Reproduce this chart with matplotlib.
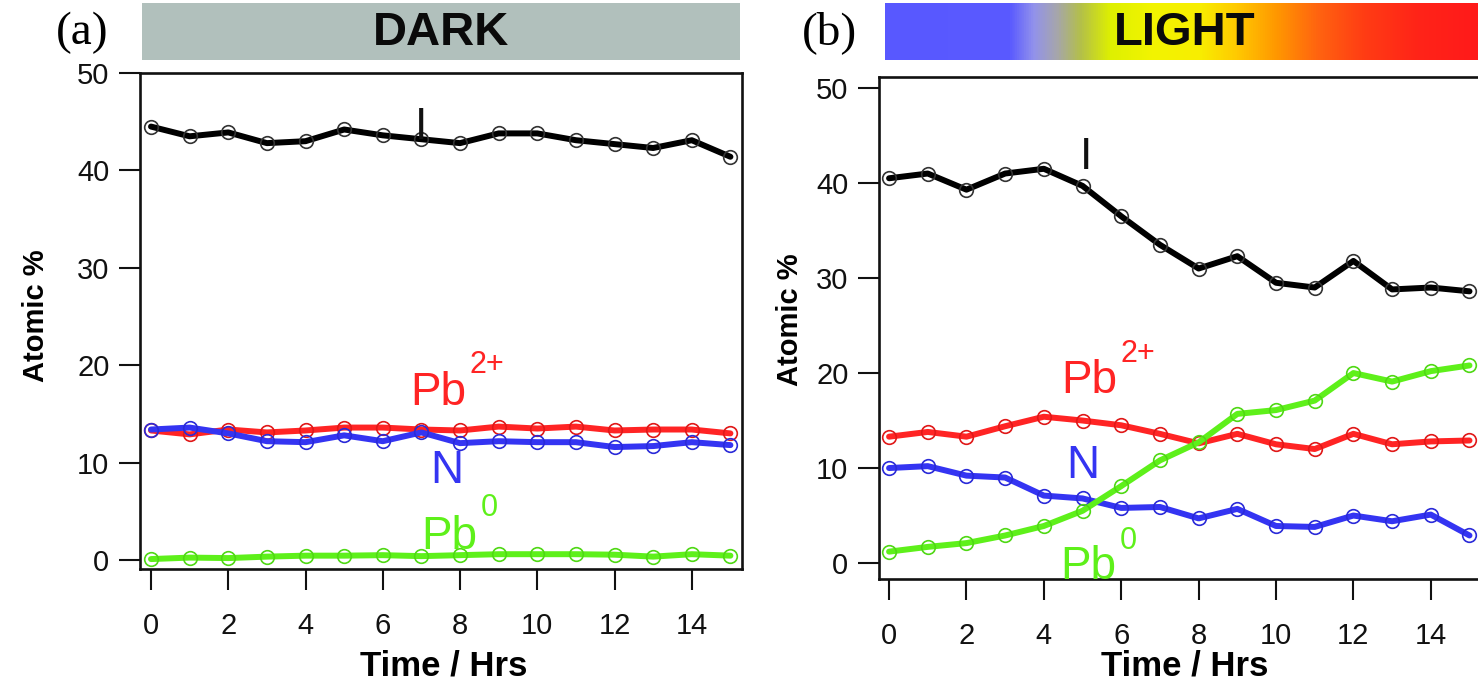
import numpy as np
import matplotlib
matplotlib.use("Agg")
import matplotlib.pyplot as plt
from matplotlib import font_manager
from matplotlib.colors import LinearSegmentedColormap

# ---------------- data ----------------
hours = list(range(16))

dark_I = [44.5, 43.5, 43.9, 42.8, 43.0, 44.2, 43.6, 43.2, 42.8, 43.8, 43.8, 43.1, 42.7, 42.3, 43.1, 41.4]
dark_Pb2 = [13.3, 12.9, 13.4, 13.1, 13.3, 13.6, 13.6, 13.4, 13.3, 13.7, 13.5, 13.7, 13.3, 13.4, 13.4, 13.0]
dark_N = [13.4, 13.6, 13.0, 12.2, 12.1, 12.8, 12.2, 13.1, 12.0, 12.2, 12.1, 12.1, 11.6, 11.7, 12.1, 11.8]
dark_Pb0 = [0.1, 0.25, 0.2, 0.35, 0.45, 0.45, 0.5, 0.4, 0.5, 0.6, 0.6, 0.6, 0.55, 0.35, 0.6, 0.45]

light_I = [40.5, 41.0, 39.3, 41.0, 41.5, 39.7, 36.5, 33.5, 31.0, 32.3, 29.5, 29.0, 31.8, 28.8, 29.0, 28.6]
light_Pb2 = [13.3, 13.8, 13.3, 14.4, 15.4, 15.0, 14.5, 13.6, 12.6, 13.6, 12.5, 12.0, 13.6, 12.5, 12.8, 12.9]
light_N = [10.0, 10.2, 9.2, 9.0, 7.1, 6.8, 5.8, 5.9, 4.7, 5.7, 3.9, 3.8, 5.0, 4.4, 5.1, 2.9]
light_Pb0 = [1.2, 1.7, 2.1, 2.9, 3.9, 5.5, 8.1, 10.8, 12.7, 15.7, 16.1, 17.1, 20.0, 19.1, 20.2, 20.8]

xticks = [0, 2, 4, 6, 8, 10, 12, 14]
yticks = [0, 10, 20, 30, 40, 50]

# ---------------- style ----------------
names = {f.name for f in font_manager.fontManager.ttflist}
SANS = "Liberation Sans" if "Liberation Sans" in names else "DejaVu Sans"
NARROW = "Liberation Sans Narrow" if "Liberation Sans Narrow" in names else SANS
SERIF = "Liberation Serif" if "Liberation Serif" in names else "DejaVu Serif"
plt.rcParams["font.family"] = [SANS, "DejaVu Sans"]

C_I = "#000000"
C_PB2 = "#ff2424"
C_N = "#3434f2"
C_PB0 = "#5ef01a"

W, H = 1478, 685
fig = plt.figure(figsize=(W / 100, H / 100), dpi=100)


def px_box(x0, y0, x1, y1):
    """Axes rectangle given in pixel edges (left, top, right, bottom)."""
    return [x0 / W, 1 - y1 / H, (x1 - x0) / W, (y1 - y0) / H]


def style_axes(ax, full_box):
    for side in ("left", "bottom", "top", "right"):
        ax.spines[side].set_linewidth(1.9)
        ax.spines[side].set_color("#111111")
    if not full_box:
        ax.spines["right"].set_visible(False)
    ax.set_xticks(xticks)
    ax.set_yticks(yticks)
    ax.tick_params(axis="both", direction="out", length=15, width=1.5,
                   labelsize=21, colors="#111111")
    ax.tick_params(axis="x", pad=16)
    ax.tick_params(axis="y", pad=7)
    ax.set_xlabel("Time / Hrs", fontsize=25, fontweight="bold", family=NARROW)
    ax.set_ylabel("Atomic %", fontsize=21, fontweight="bold", family=NARROW)
    ax.xaxis.label.set_va("center")
    ax.yaxis.label.set_va("center")


def series(ax, y, color, edge):
    ax.plot(hours, y, color=color, lw=4.3, marker="o", ms=9.8,
            mfc="none", mec=edge, mew=1.2, solid_joinstyle="round",
            solid_capstyle="round", clip_on=False, zorder=3)


def species_label(ax, x, y, base, sup, color, sup_dy=22):
    ax.text(x, y, base, color=color, fontsize=33, ha="left", va="baseline",
            clip_on=False)
    if sup:
        ax.annotate(sup, xy=(x, y), xytext=(43, sup_dy), textcoords="offset points",
                    color=color, fontsize=22, ha="left", va="baseline",
                    annotation_clip=False)


# ---------------- panel (a): dark ----------------
axa = fig.add_axes(px_box(140, 73, 742, 569))
series(axa, dark_I, C_I, "#333333")
series(axa, dark_Pb2, C_PB2, "#e01818")
series(axa, dark_N, C_N, "#2a2ad8")
series(axa, dark_Pb0, C_PB0, "#4fd814")
axa.set_xlim(-0.285, 15.3)
axa.set_ylim(-0.92, 50)
style_axes(axa, full_box=True)
axa.xaxis.set_label_coords(0.505, -0.196)
axa.yaxis.label.set_position((0, 0.51))
axa.yaxis.set_label_coords(-0.172, 0.51)

axa.text(7.0, 43.2, "I", fontsize=32, ha="center", va="baseline", color="#111111")
species_label(axa, 6.7, 15.9, "Pb", "2+", C_PB2, sup_dy=23)
axa.text(7.66, 7.9, "N", fontsize=33, ha="center", va="baseline", color=C_N)
species_label(axa, 7.0, 1.1, "Pb", "0", C_PB0, sup_dy=24)

# ---------------- panel (b): light ----------------
axb = fig.add_axes(px_box(879, 77, 1490, 579))
series(axb, light_I, C_I, "#333333")
series(axb, light_Pb2, C_PB2, "#e01818")
series(axb, light_N, C_N, "#2a2ad8")
series(axb, light_Pb0, C_PB0, "#4fd814")
axb.set_xlim(-0.26, 15.53)
axb.set_ylim(-1.68, 51.16)
style_axes(axb, full_box=False)
axb.xaxis.set_label_coords(0.5, -0.174)
axb.yaxis.set_label_coords(-0.146, 0.516)

axb.text(5.1, 41.5, "I", fontsize=32, ha="center", va="baseline", color="#111111")
species_label(axb, 4.45, 17.9, "Pb", "2+", C_PB2, sup_dy=22)
axb.text(5.02, 9.0, "N", fontsize=33, ha="center", va="baseline", color=C_N)
species_label(axb, 4.43, -1.7, "Pb", "0", C_PB0, sup_dy=22)

# ---------------- condition banners ----------------
band_a = fig.add_axes(px_box(142, 3, 740, 60))
band_a.set_facecolor("#b1c0bc")
band_a.set_xticks([]); band_a.set_yticks([])
for s in band_a.spines.values():
    s.set_visible(False)
band_a.text(0.5, 0.48, "DARK", transform=band_a.transAxes, ha="center", va="center",
            fontsize=34, fontweight="bold", family=NARROW, color="#0a0a0a")

spectrum = LinearSegmentedColormap.from_list("spectrum", [
    (0.00, "#5858ff"), (0.21, "#5a5aff"), (0.25, "#9292ec"), (0.29, "#a6a6aa"),
    (0.33, "#b4c048"), (0.38, "#def000"), (0.45, "#f2f400"), (0.53, "#f8ee00"),
    (0.59, "#ffcc00"), (0.66, "#ff9800"), (0.73, "#ff6410"), (0.81, "#ff3c14"),
    (0.90, "#ff2418"), (1.00, "#ff1a1a")])
band_b = fig.add_axes(px_box(885, 3, 1478, 60))
band_b.imshow(np.linspace(0, 1, 512)[None, :], cmap=spectrum, aspect="auto",
              extent=(0, 1, 0, 1))
band_b.set_xlim(0, 1); band_b.set_ylim(0, 1)
band_b.set_xticks([]); band_b.set_yticks([])
for s in band_b.spines.values():
    s.set_visible(False)
band_b.text(0.505, 0.48, "LIGHT", transform=band_b.transAxes, ha="center", va="center",
            fontsize=34, fontweight="bold", family=NARROW, color="#0a0a0a")

fig.text(82 / W, 1 - 33 / H, "(a)", family=SERIF, fontsize=34, ha="center", va="center")
fig.text(830 / W, 1 - 33 / H, "(b)", family=SERIF, fontsize=34, ha="center", va="center")

fig.savefig("out.png", dpi=100)
